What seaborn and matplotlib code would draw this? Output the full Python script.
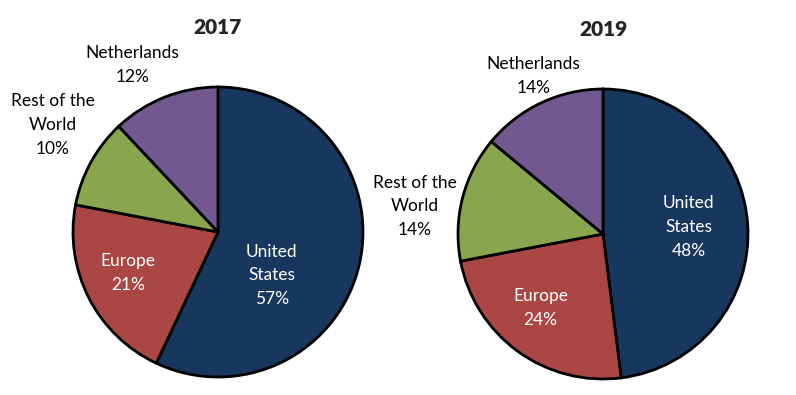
import matplotlib
matplotlib.use("Agg")
import matplotlib.pyplot as plt
import seaborn as sns

# ── Data ─────────────────────────────────────
regions    = ["United States", "Europe", "Rest of the World", "Netherlands"]
labels     = ["United\nStates", "Europe", "Rest of the\nWorld", "Netherlands"]
share_2017 = [57, 21, 10, 12]
share_2019 = [48, 24, 14, 14]
years      = ["2017", "2019"]

colors      = ["#17375E", "#AA4643", "#89A54E", "#71588F"]
text_colors = ["white", "white", "black", "black"]

# label anchors in pie units (centre = 0,0 ; radius = 1)
label_pos = {
    "2017": [(0.37, -0.30), (-0.62, -0.28), (-1.14, 0.74), (-0.59, 1.15)],
    "2019": [(0.59, 0.05), (-0.43, -0.51), (-1.30, 0.19), (-0.48, 1.09)],
}

sns.set_theme(style="white")
plt.rcParams["font.family"] = ["Lato", "DejaVu Sans"]

fig = plt.figure(figsize=(7.96, 3.95), dpi=100)
axes = [
    fig.add_axes([73 / 796, 1 - 377 / 395, 290 / 796, 290 / 395]),
    fig.add_axes([458 / 796, 1 - 379 / 395, 290 / 796, 290 / 395]),
]

for ax, year, values in zip(axes, years, [share_2017, share_2019]):
    ax.pie(
        values, colors=colors, startangle=90, counterclock=False,
        wedgeprops=dict(edgecolor="black", linewidth=2),
    )
    ax.set_xlim(-1, 1)
    ax.set_ylim(-1, 1)
    for (x, y), lab, val, tc in zip(label_pos[year], labels, values, text_colors):
        ax.text(x, y, f"{lab}\n{val}%", ha="center", va="center",
                color=tc, fontsize=12.5, linespacing=1.6, clip_on=False)
    ax.text(0, 1.41, year, ha="center", va="center",
            fontsize=15, fontweight="heavy", clip_on=False)
    ax.axis("off")

plt.savefig("out.png", dpi=100)
plt.close()
